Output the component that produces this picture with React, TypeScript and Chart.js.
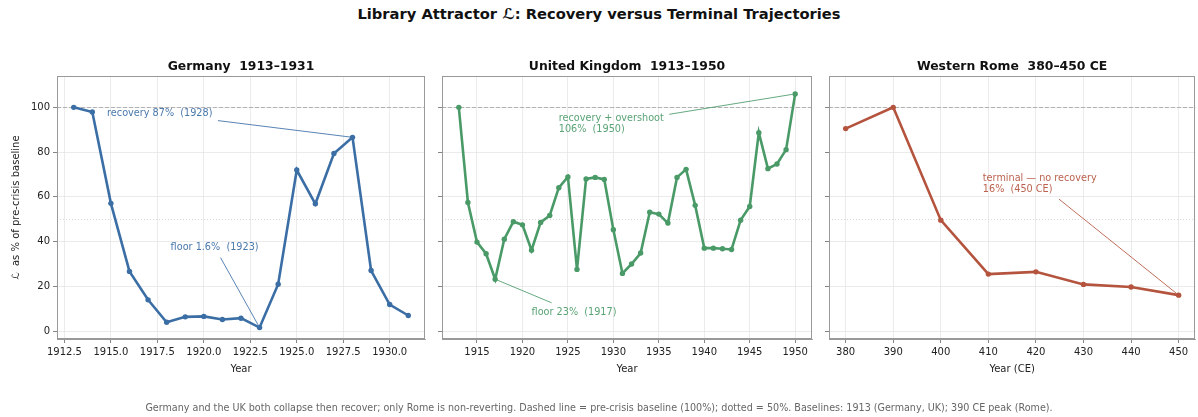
import React, { useEffect, useRef } from 'react';
import { Chart, registerables } from 'chart.js';

Chart.register(...registerables);

const FONT = "'DejaVu Sans', sans-serif";

// ---------- data ----------
const germanyYears = [1913, 1914, 1915, 1916, 1917, 1918, 1919, 1920, 1921, 1922, 1923, 1924, 1925, 1926, 1927, 1928, 1929, 1930, 1931];
const germanyValues = [100, 97.9, 57.1, 26.7, 14.0, 4.0, 6.4, 6.6, 5.2, 5.8, 1.6, 21.0, 72.0, 56.9, 79.4, 86.6, 27.1, 11.9, 7.0];

const ukYears = [1913, 1914, 1915, 1916, 1917, 1918, 1919, 1920, 1921, 1922, 1923, 1924, 1925, 1926, 1927, 1928, 1929, 1930, 1931, 1932, 1933, 1934, 1935, 1936, 1937, 1938, 1939, 1940, 1941, 1942, 1943, 1944, 1945, 1946, 1947, 1948, 1949, 1950];
const ukValues = [100, 57.5, 39.8, 34.6, 23.2, 41.1, 48.9, 47.5, 36.2, 48.6, 51.7, 64.1, 68.9, 27.6, 68.0, 68.7, 67.8, 45.3, 25.8, 30.0, 34.9, 53.1, 52.3, 48.3, 68.7, 72.3, 56.2, 37.1, 37.1, 36.8, 36.5, 49.6, 55.7, 88.7, 72.6, 74.7, 81.1, 106.0];

const romeYears = [380, 390, 400, 410, 420, 430, 440, 450];
const romeValues = [90.5, 100, 49.6, 25.5, 26.5, 20.9, 19.7, 16.1];

const germanyTicks = [1912.5, 1915, 1917.5, 1920, 1922.5, 1925, 1927.5, 1930];
const ukTicks = [1915, 1920, 1925, 1930, 1935, 1940, 1945, 1950];
const romeTicks = [380, 390, 400, 410, 420, 430, 440, 450];
const yTicks = [0, 20, 40, 60, 80, 100];

const BASELINE = 100;
const HALF = 50;

type Note = { lines: string[]; x: number; y: number; tx: number; ty: number };

const germanyNotes: Note[] = [
  { lines: ['recovery 87%  (1928)'], x: 1917.63, y: 97.3, tx: 1928, ty: 86.6 },
  { lines: ['floor 1.6%  (1923)'], x: 1920.58, y: 37.6, tx: 1923, ty: 1.6 },
];
const ukNotes: Note[] = [
  { lines: ['recovery + overshoot', '106%  (1950)'], x: 1929.77, y: 92.7, tx: 1950, ty: 106.0 },
  { lines: ['floor 23%  (1917)'], x: 1925.67, y: 8.5, tx: 1917, ty: 23.2 },
];
const romeNotes: Note[] = [
  { lines: ['terminal — no recovery', '16%  (450 CE)'], x: 420.8, y: 65.9, tx: 450, ty: 16.1 },
];

// ---------- layout ----------
const W = 1198;
const H = 417;
const PLOT_TOP = 76;
const PLOT_BOTTOM = 339;
const XAXIS_H = 30;
const Y_MIN = -3.5;
const Y_MAX = 114;

type Spec = {
  title: string;
  xTitle: string;
  years: number[];
  values: number[];
  color: string;
  xMin: number;
  xMax: number;
  xTicks: number[];
  fmt: (v: number) => string;
  notes: Note[];
  plotLeft: number;
  plotRight: number;
  showY: boolean;
};

const panels: Spec[] = [
  {
    title: 'Germany  1913–1931', xTitle: 'Year', years: germanyYears, values: germanyValues,
    color: '#3b6ea5', xMin: 1912.1, xMax: 1931.9, xTicks: germanyTicks, fmt: (v) => v.toFixed(1),
    notes: germanyNotes, plotLeft: 57, plotRight: 425, showY: true,
  },
  {
    title: 'United Kingdom  1913–1950', xTitle: 'Year', years: ukYears, values: ukValues,
    color: '#4a9a68', xMin: 1911.15, xMax: 1951.85, xTicks: ukTicks, fmt: (v) => String(Math.round(v)),
    notes: ukNotes, plotLeft: 442, plotRight: 812, showY: false,
  },
  {
    title: 'Western Rome  380–450 CE', xTitle: 'Year (CE)', years: romeYears, values: romeValues,
    color: '#b5543e', xMin: 376.5, xMax: 453.5, xTicks: romeTicks, fmt: (v) => String(Math.round(v)),
    notes: romeNotes, plotLeft: 829, plotRight: 1197, showY: false,
  },
];

function Panel({ spec }: { spec: Spec }) {
  const ref = useRef<HTMLCanvasElement | null>(null);
  const yAxisW = spec.showY ? spec.plotLeft : 10;
  const canvasLeft = spec.plotLeft - yAxisW;
  const canvasRight = Math.min(spec.plotRight + 15, W);
  const canvasW = canvasRight - canvasLeft;
  const padRight = canvasRight - spec.plotRight;

  useEffect(() => {
    if (!ref.current) return;
    const decor = {
      id: 'decor',
      beforeDatasetsDraw(chart: any) {
        const { ctx, chartArea } = chart;
        const ys = chart.scales.y;
        ctx.save();
        ctx.lineWidth = 0.9;
        ctx.strokeStyle = '#aaaaaa';
        ctx.setLineDash([4, 2]);
        const yb = Math.round(ys.getPixelForValue(BASELINE)) + 0.5;
        ctx.beginPath();
        ctx.moveTo(chartArea.left, yb);
        ctx.lineTo(chartArea.right, yb);
        ctx.stroke();
        ctx.strokeStyle = '#d4d4d4';
        ctx.setLineDash([1, 2]);
        const yh = Math.round(ys.getPixelForValue(HALF)) + 0.5;
        ctx.beginPath();
        ctx.moveTo(chartArea.left, yh);
        ctx.lineTo(chartArea.right, yh);
        ctx.stroke();
        ctx.restore();
      },
      afterDatasetsDraw(chart: any) {
        const { ctx, chartArea } = chart;
        const xs = chart.scales.x;
        const ys = chart.scales.y;
        ctx.save();
        ctx.font = `9.7px ${FONT}`;
        const lineH = 10.8;
        for (const n of spec.notes) {
          const cx = xs.getPixelForValue(n.x);
          const cy = ys.getPixelForValue(n.y);
          const tx = xs.getPixelForValue(n.tx);
          const ty = ys.getPixelForValue(n.ty);
          const w = Math.max(...n.lines.map((l) => ctx.measureText(l).width));
          const h = n.lines.length * lineH;
          ctx.fillStyle = spec.color;
          ctx.globalAlpha = 0.92;
          ctx.textAlign = 'left';
          ctx.textBaseline = 'middle';
          n.lines.forEach((l, i) => {
            ctx.fillText(l, cx - w / 2, cy - h / 2 + lineH * (i + 0.5));
          });
          ctx.globalAlpha = 1;
          const dx = tx - cx;
          const dy = ty - cy;
          const len = Math.hypot(dx, dy);
          const ux = dx / len;
          const uy = dy / len;
          const hw = w / 2 + 3;
          const hh = h / 2 + 3;
          const s = Math.min(dx !== 0 ? hw / Math.abs(dx) : Infinity, dy !== 0 ? hh / Math.abs(dy) : Infinity);
          const sx = cx + dx * s + ux * 2.5;
          const sy = cy + dy * s + uy * 2.5;
          const ex = tx - ux * 2.5;
          const ey = ty - uy * 2.5;
          ctx.strokeStyle = spec.color;
          ctx.lineWidth = 0.85;
          ctx.beginPath();
          ctx.moveTo(sx, sy);
          ctx.lineTo(ex, ey);
          ctx.stroke();
        }
        ctx.strokeStyle = '#999999';
        ctx.lineWidth = 1;
        ctx.strokeRect(
          Math.round(chartArea.left) + 0.5,
          Math.round(chartArea.top) + 0.5,
          Math.round(chartArea.right - chartArea.left) - 1,
          Math.round(chartArea.bottom - chartArea.top) - 1
        );
        ctx.restore();
      },
      afterDraw(chart: any) {
        const { ctx, chartArea } = chart;
        ctx.save();
        ctx.fillStyle = '#111111';
        ctx.textAlign = 'center';
        ctx.textBaseline = 'middle';
        const midX = (chartArea.left + chartArea.right) / 2;
        ctx.font = `bold 12.4px ${FONT}`;
        ctx.fillText(spec.title, midX, 66.5);
        ctx.font = `10px ${FONT}`;
        ctx.fillStyle = '#222222';
        ctx.fillText(spec.xTitle, midX, 369);
        if (spec.showY) {
          ctx.translate(16.5, (chartArea.top + chartArea.bottom) / 2);
          ctx.rotate(-Math.PI / 2);
          ctx.fillText('ℒ  as % of pre-crisis baseline', 0, 0);
        }
        ctx.restore();
      },
    };

    const chart = new Chart(ref.current, {
      type: 'line',
      data: {
        datasets: [
          {
            data: spec.years.map((x, i) => ({ x, y: spec.values[i] })),
            borderColor: spec.color,
            backgroundColor: spec.color,
            borderWidth: 2.6,
            pointRadius: 2.7,
            pointHoverRadius: 2.7,
            pointBorderWidth: 0,
            tension: 0,
          },
        ],
      },
      options: {
        responsive: false,
        animation: false,
        events: [],
        layout: { padding: { top: PLOT_TOP, bottom: H - PLOT_BOTTOM - XAXIS_H, left: 0, right: padRight } },
        plugins: { legend: { display: false }, tooltip: { enabled: false }, title: { display: false } },
        scales: {
          x: {
            type: 'linear',
            min: spec.xMin,
            max: spec.xMax,
            afterBuildTicks: (s: any) => { s.ticks = spec.xTicks.map((v) => ({ value: v })); },
            afterFit: (s: any) => { s.height = XAXIS_H; },
            ticks: {
              callback: (v: any) => spec.fmt(Number(v)),
              maxRotation: 0,
              autoSkip: false,
              color: '#222222',
              font: { size: 10, family: FONT },
              padding: 3,
            },
            grid: { color: '#e6e6e6', lineWidth: 0.8, tickLength: 4, tickColor: '#666666', tickWidth: 0.8, drawTicks: true },
            border: { display: true, color: '#999999', width: 1 },
          },
          y: {
            type: 'linear',
            min: Y_MIN,
            max: Y_MAX,
            afterBuildTicks: (s: any) => { s.ticks = yTicks.map((v) => ({ value: v })); },
            afterFit: (s: any) => { s.width = yAxisW; },
            ticks: {
              callback: (v: any) => (spec.showY ? String(v) : ''),
              color: '#222222',
              font: { size: 10, family: FONT },
              padding: 3,
            },
            grid: { color: '#e6e6e6', lineWidth: 0.8, tickLength: 4, tickColor: '#666666', tickWidth: 0.8, drawTicks: true },
            border: { display: true, color: '#999999', width: 1 },
          },
        },
      },
      plugins: [decor],
    } as any);
    return () => chart.destroy();
  }, [spec]);

  return (
    <canvas
      ref={ref}
      width={canvasW}
      height={H}
      style={{ position: 'absolute', left: canvasLeft, top: 0, width: canvasW, height: H }}
    />
  );
}

export default function App() {
  return (
    <div style={{ position: 'fixed', left: 0, top: 0, width: W, height: H, background: '#ffffff', overflow: 'hidden', fontFamily: FONT }}>
      <div style={{ position: 'absolute', left: 0, top: 5, width: W, textAlign: 'center', fontWeight: 'bold', fontSize: 14.7, lineHeight: '18px', color: '#111111' }}>
        Library Attractor ℒ: Recovery versus Terminal Trajectories
      </div>
      {panels.map((p, i) => (
        <Panel key={i} spec={p} />
      ))}
      <div style={{ position: 'absolute', left: 0, top: 401.5, width: W, textAlign: 'center', fontSize: 9.6, lineHeight: '11px', color: '#666666' }}>
        Germany and the UK both collapse then recover; only Rome is non-reverting. Dashed line = pre-crisis baseline (100%); dotted = 50%. Baselines: 1913 (Germany, UK); 390 CE peak (Rome).
      </div>
    </div>
  );
}
